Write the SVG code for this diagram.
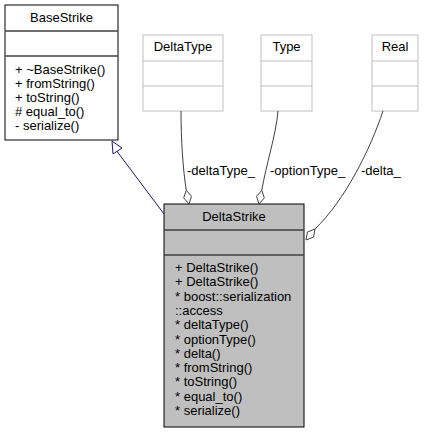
<svg xmlns="http://www.w3.org/2000/svg" width="425" height="433" viewBox="0 0 425 433">
<style>
text{font-family:"Liberation Sans",Arial,sans-serif;font-size:13px;fill:#000}
.c{text-anchor:middle}
.box{fill:#fff;stroke:#000;stroke-width:1}
.hid{fill:#fff;stroke:#bfbfbf;stroke-width:1}
.main{fill:#bfbfbf;stroke:#000;stroke-width:1}
.div{stroke:#404040;stroke-width:1.3}
.hdiv{stroke:#bfbfbf;stroke-width:1}
.edge{fill:none;stroke:#404040;stroke-width:1}
.dia{fill:#fff;stroke:#404040;stroke-width:1}
.inh{fill:none;stroke:#191970;stroke-width:1}
.tri{fill:#fff;stroke:#191970;stroke-width:1}
</style>
<rect width="425" height="433" fill="#fff"/>
<g id="BaseStrike">
<rect class="box" x="5" y="5" width="113" height="135"/>
<line class="div" x1="5" y1="31" x2="118" y2="31"/>
<line class="div" x1="5" y1="56" x2="118" y2="56"/>
<text class="c" x="61.5" y="22">BaseStrike</text>
<text x="15" y="74">+ ~BaseStrike()</text>
<text x="15" y="88">+ fromString()</text>
<text x="15" y="102">+ toString()</text>
<text x="15" y="116"># equal_to()</text>
<text x="15" y="130">- serialize()</text>
</g>
<g id="DeltaType">
<rect class="hid" x="143" y="35" width="80" height="76"/>
<line class="hdiv" x1="143" y1="61" x2="223" y2="61"/>
<line class="hdiv" x1="143" y1="86" x2="223" y2="86"/>
<text class="c" x="183" y="51">DeltaType</text>
</g>
<g id="Type">
<rect class="hid" x="261" y="35" width="51" height="76"/>
<line class="hdiv" x1="261" y1="61" x2="312" y2="61"/>
<line class="hdiv" x1="261" y1="86" x2="312" y2="86"/>
<text class="c" x="286.5" y="51">Type</text>
</g>
<g id="Real">
<rect class="hid" x="372" y="35" width="46" height="76"/>
<line class="hdiv" x1="372" y1="61" x2="418" y2="61"/>
<line class="hdiv" x1="372" y1="86" x2="418" y2="86"/>
<text class="c" x="395" y="51">Real</text>
</g>
<g id="DeltaStrike">
<rect class="main" x="164" y="204" width="140" height="223"/>
<line class="div" x1="164" y1="230" x2="304" y2="230"/>
<line class="div" x1="164" y1="255" x2="304" y2="255"/>
<text class="c" x="234" y="221">DeltaStrike</text>
<text x="175" y="272">+ DeltaStrike()</text>
<text x="175" y="286.3">+ DeltaStrike()</text>
<text x="175" y="300.6">* boost::serialization</text>
<text x="175" y="314.9">::access</text>
<text x="175" y="329.2">* deltaType()</text>
<text x="175" y="343.5">* optionType()</text>
<text x="175" y="357.8">* delta()</text>
<text x="175" y="372.1">* fromString()</text>
<text x="175" y="386.4">* toString()</text>
<text x="175" y="400.7">* equal_to()</text>
<text x="175" y="415">* serialize()</text>
</g>
<g id="connectors">
<path class="inh" d="M164,214 L116,150"/>
<polygon class="tri" points="112,141 113,154 122,148"/>
<path class="edge" d="M181,111 C181,140 183,170 186.3,190.3"/>
<polygon class="dia" points="189,204 183.7,197.9 186.3,190.3 191.5,196.3"/>
<text x="187" y="175">-deltaType_</text>
<path class="edge" d="M278,111 C276,135 266,165 261.8,190.3"/>
<polygon class="dia" points="259,204 256.5,196.3 261.8,190.3 264.3,197.9"/>
<text x="270" y="175">-optionType_</text>
<path class="edge" d="M383,111 C370,150 345,200 315,229"/>
<polygon class="dia" points="306,240 307.4,232 315,229 313.6,237"/>
<text x="361" y="175">-delta_</text>
</g>
</svg>
